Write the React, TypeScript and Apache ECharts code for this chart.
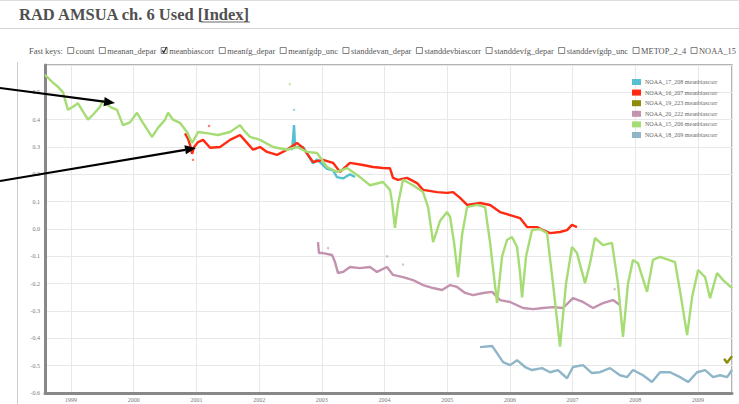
import React, { useEffect, useRef } from "react";
import * as echarts from "echarts";

const W = 739;
const H = 404;

// x extent of the plot, decimal years
const X_MIN = 1998.585;
const X_MAX = 2009.541;

// y axis
const Y_MIN = -0.6;
const Y_MAX = 0.6;
const Y_STEP = 0.1;

const SERIES_NAMES = [
  "NOAA_17_208 meanbiascorr",
  "NOAA_16_207 meanbiascorr",
  "NOAA_19_223 meanbiascorr",
  "NOAA_20_222 meanbiascorr",
  "NOAA_15_206 meanbiascorr",
  "NOAA_18_209 meanbiascorr",
];
const SERIES_COLORS = ["#55c0d2", "#ff2a12", "#8c8c08", "#c392ae", "#a6dc74", "#8fb6c8"];

// [decimal year, meanbiascorr]
const noaa17_208: number[][] = [
  [2002.477, 0.3], [2002.525, 0.29], [2002.541, 0.33], [2002.557, 0.38], [2002.573, 0.3],
  [2002.7, 0.3], [2002.86, 0.24], [2002.923, 0.255], [2003.083, 0.22], [2003.179, 0.215],
  [2003.242, 0.19], [2003.338, 0.185], [2003.45, 0.2], [2003.53, 0.19],
];

const noaa16_207: number[][] = [
  [2000.818, 0.35], [2000.866, 0.33], [2000.898, 0.307], [2000.93, 0.275], [2000.962, 0.3],
  [2001.026, 0.318], [2001.105, 0.326], [2001.217, 0.297], [2001.376, 0.3], [2001.536, 0.326],
  [2001.695, 0.344], [2001.807, 0.315], [2001.903, 0.29], [2002.014, 0.3], [2002.126, 0.282],
  [2002.285, 0.271], [2002.445, 0.29], [2002.604, 0.315], [2002.7, 0.297], [2002.86, 0.245],
  [2003.019, 0.253], [2003.179, 0.242], [2003.29, 0.209], [2003.45, 0.242], [2003.657, 0.234],
  [2003.817, 0.227], [2003.976, 0.223], [2004.088, 0.222], [2004.136, 0.187], [2004.215, 0.18],
  [2004.359, 0.187], [2004.518, 0.168], [2004.614, 0.143], [2004.837, 0.135], [2004.997, 0.132],
  [2005.093, 0.135], [2005.204, 0.114], [2005.316, 0.088], [2005.523, 0.095], [2005.683, 0.088],
  [2005.842, 0.062], [2006.002, 0.051], [2006.161, 0.04], [2006.273, 0.007], [2006.432, 0.007],
  [2006.528, -0.004], [2006.64, -0.015], [2006.799, -0.011], [2006.911, -0.004], [2006.99, 0.015],
  [2007.07, 0.007],
];

const noaa19_223: number[][] = [
  [2009.415, -0.475], [2009.463, -0.49], [2009.49, -0.48], [2009.525, -0.47], [2009.541, -0.465],
];

const noaa20_222: number[][] = [
  [2002.939, -0.048], [2002.955, -0.088], [2003.019, -0.088], [2003.163, -0.095], [2003.211, -0.121],
  [2003.258, -0.161], [2003.338, -0.157], [2003.45, -0.139], [2003.609, -0.143], [2003.769, -0.139],
  [2003.88, -0.157], [2004.04, -0.139], [2004.136, -0.168], [2004.295, -0.176], [2004.455, -0.187],
  [2004.614, -0.205], [2004.774, -0.216], [2004.917, -0.223], [2005.045, -0.205], [2005.156, -0.212],
  [2005.284, -0.234], [2005.411, -0.242], [2005.571, -0.234], [2005.715, -0.23], [2005.842, -0.26],
  [2006.002, -0.267], [2006.209, -0.289], [2006.368, -0.293], [2006.528, -0.289], [2006.687, -0.286],
  [2006.847, -0.289], [2007.006, -0.253], [2007.166, -0.267], [2007.325, -0.289], [2007.485, -0.271],
  [2007.644, -0.26], [2007.756, -0.278],
];

const noaa15_206: number[][] = [
  [1998.585, 0.564], [1998.713, 0.535], [1998.793, 0.52], [1998.872, 0.5], [1998.952, 0.436],
  [1999.032, 0.447], [1999.112, 0.46], [1999.175, 0.436], [1999.271, 0.4], [1999.351, 0.418],
  [1999.463, 0.447], [1999.51, 0.47], [1999.622, 0.447], [1999.734, 0.436], [1999.829, 0.38],
  [1999.941, 0.39], [2000.053, 0.425], [2000.148, 0.388], [2000.292, 0.337], [2000.388, 0.37],
  [2000.499, 0.4], [2000.547, 0.425], [2000.627, 0.4], [2000.738, 0.388], [2000.85, 0.355],
  [2000.93, 0.315], [2001.026, 0.355], [2001.185, 0.35], [2001.344, 0.344], [2001.536, 0.355],
  [2001.695, 0.38], [2001.759, 0.36], [2001.855, 0.337], [2002.014, 0.326], [2002.222, 0.3],
  [2002.445, 0.29], [2002.604, 0.3], [2002.764, 0.282], [2002.923, 0.278], [2003.083, 0.227],
  [2003.242, 0.209], [2003.402, 0.223], [2003.609, 0.19], [2003.769, 0.16], [2003.976, 0.172],
  [2004.088, 0.143], [2004.12, 0.1], [2004.167, 0.004], [2004.215, 0.09], [2004.295, 0.18],
  [2004.455, 0.16], [2004.614, 0.135], [2004.694, 0.08], [2004.774, -0.048], [2004.885, 0.03],
  [2004.997, 0.062], [2005.045, 0.044], [2005.108, -0.05], [2005.172, -0.176], [2005.236, -0.02],
  [2005.316, 0.08], [2005.475, 0.088], [2005.603, 0.08], [2005.683, -0.05], [2005.794, -0.27],
  [2005.874, -0.1], [2005.954, -0.04], [2006.033, -0.029], [2006.113, -0.066], [2006.161, -0.16],
  [2006.193, -0.25], [2006.257, -0.1], [2006.352, -0.004], [2006.48, 0.0], [2006.592, -0.015],
  [2006.687, -0.2], [2006.799, -0.43], [2006.895, -0.2], [2006.99, -0.066], [2007.07, -0.088],
  [2007.198, -0.198], [2007.278, -0.125], [2007.357, -0.033], [2007.485, -0.059], [2007.628, -0.051],
  [2007.724, -0.2], [2007.804, -0.395], [2007.884, -0.2], [2007.963, -0.113], [2008.043, -0.125],
  [2008.187, -0.23], [2008.282, -0.113], [2008.394, -0.102], [2008.633, -0.121], [2008.729, -0.25],
  [2008.825, -0.388], [2008.904, -0.25], [2009.0, -0.15], [2009.112, -0.176], [2009.191, -0.253],
  [2009.303, -0.161], [2009.399, -0.187], [2009.541, -0.216],
];

const noaa18_209: number[][] = [
  [2005.523, -0.432], [2005.715, -0.428], [2005.794, -0.454], [2005.89, -0.487], [2006.002, -0.498],
  [2006.113, -0.48], [2006.241, -0.505], [2006.352, -0.516], [2006.512, -0.509], [2006.64, -0.524],
  [2006.767, -0.516], [2006.911, -0.546], [2007.006, -0.505], [2007.166, -0.498], [2007.309, -0.527],
  [2007.437, -0.524], [2007.596, -0.509], [2007.756, -0.535], [2007.868, -0.542], [2007.963, -0.516],
  [2008.123, -0.535], [2008.266, -0.56], [2008.394, -0.524], [2008.553, -0.524], [2008.713, -0.542],
  [2008.841, -0.56], [2008.984, -0.524], [2009.112, -0.516], [2009.239, -0.542], [2009.351, -0.535],
  [2009.463, -0.542], [2009.541, -0.516],
];

// stray single values drawn as dots
const stray16: number[][] = [[2000.946, 0.253], [2001.2, 0.377]];
const stray17: number[][] = [[2002.557, 0.436]];
const stray20: number[][] = [[2003.1, -0.07], [2004.04, -0.1], [2004.295, -0.13], [2007.67, -0.22]];
const stray15: number[][] = [[2002.49, 0.53]];

// quick-select keys above the chart: [label, checked]
const FAST_KEYS: [string, boolean][] = [
  ["count", false],
  ["meanan_depar", false],
  ["meanbiascorr", true],
  ["meanfg_depar", false],
  ["meanfgdp_unc", false],
  ["standdevan_depar", false],
  ["standdevbiascorr", false],
  ["standdevfg_depar", false],
  ["standdevfgdp_unc", false],
  ["METOP_2_4", false],
  ["NOAA_15", false],
];

const toTime = (y: number) => {
  const yr = Math.floor(y);
  const a = Date.UTC(yr, 0, 1);
  const b = Date.UTC(yr + 1, 0, 1);
  return a + (y - yr) * (b - a);
};
const YEAR_MS = 365.25 * 24 * 3600 * 1000;
const toSeries = (d: number[][]) => d.map(([y, v]) => [toTime(y), v]);

function arrow(x0: number, y0: number, x1: number, y1: number) {
  const dx = x1 - x0;
  const dy = y1 - y0;
  const len = Math.hypot(dx, dy);
  const ux = dx / len;
  const uy = dy / len;
  const hl = 11;
  const hw = 4.6;
  const bx = x1 - ux * hl;
  const by = y1 - uy * hl;
  return [
    { type: "line", shape: { x1: x0, y1: y0, x2: bx, y2: by }, style: { stroke: "#000", lineWidth: 2.2 }, z: 100 },
    {
      type: "polygon",
      shape: { points: [[x1, y1], [bx - uy * hw, by + ux * hw], [bx + uy * hw, by - ux * hw]] },
      style: { fill: "#000" },
      z: 100,
    },
  ];
}

export default function App() {
  const ref = useRef<HTMLDivElement>(null);

  useEffect(() => {
    if (!ref.current) return;
    const chart = echarts.init(ref.current, null, { renderer: "svg", width: W, height: H });
    const serif = "'Liberation Serif', 'DejaVu Serif', serif";

    const data = [noaa17_208, noaa16_207, noaa19_223, noaa20_222, noaa15_206, noaa18_209];
    const lines = data.map((d, i) => ({
      name: SERIES_NAMES[i],
      type: "line",
      data: toSeries(d),
      showSymbol: false,
      symbol: "none",
      color: SERIES_COLORS[i],
      lineStyle: { width: 2.4, color: SERIES_COLORS[i] },
      z: 2 + i,
    }));
    const strays = [
      [stray16, SERIES_COLORS[1]],
      [stray17, SERIES_COLORS[0]],
      [stray20, SERIES_COLORS[3]],
      [stray15, SERIES_COLORS[4]],
    ].map(([d, c], i) => ({
      name: "stray" + i,
      type: "scatter",
      data: toSeries(d as number[][]),
      symbolSize: 2.5,
      itemStyle: { color: c as string, opacity: 0.6 },
      z: 1,
    }));

    const keyFont = "8.4px " + serif;
    const ctx = document.createElement("canvas").getContext("2d");
    const measure = (s: string) => {
      if (!ctx) return s.length * 4;
      ctx.font = keyFont;
      return ctx.measureText(s).width;
    };

    const graphics: any[] = [
      { type: "line", shape: { x1: 0, y1: 0.5, x2: W, y2: 0.5 }, style: { stroke: "#dddddd", lineWidth: 1 } },
      {
        type: "text",
        x: 19,
        y: 14,
        style: {
          text: "RAD AMSUA ch. 6 Used [Index]",
          font: "bold 16.5px " + serif,
          fill: "#505050",
          verticalAlign: "middle",
        },
      },
      { type: "line", shape: { x1: 201, y1: 22, x2: 250, y2: 22 }, style: { stroke: "#666", lineWidth: 1 } },
      { type: "line", shape: { x1: 0, y1: 28.5, x2: W, y2: 28.5 }, style: { stroke: "#d4d4d4", lineWidth: 1 } },
      { type: "line", shape: { x1: 17.5, y1: 62, x2: 17.5, y2: H }, style: { stroke: "#cccccc", lineWidth: 1 } },
      {
        type: "text",
        x: 29,
        y: 51,
        style: { text: "Fast keys:", font: keyFont, fill: "#555", verticalAlign: "middle" },
      },
    ];
    let kx = 29 + measure("Fast keys:") + 5;
    FAST_KEYS.forEach(([label, checked]) => {
      graphics.push({
        type: "rect",
        shape: { x: kx, y: 47.5, width: 6, height: 6 },
        style: { fill: "#fff", stroke: "#666", lineWidth: 0.8 },
      });
      if (checked) {
        graphics.push({
          type: "polyline",
          shape: { points: [[kx + 1, 50.5], [kx + 2.6, 52.5], [kx + 5.5, 47]] },
          style: { stroke: "#333", lineWidth: 1.3, fill: null },
        });
      }
      graphics.push({
        type: "text",
        x: kx + 8,
        y: 51,
        style: { text: label, font: keyFont, fill: "#555", verticalAlign: "middle" },
      });
      kx += 8 + measure(label) + 5;
    });
    graphics.push(...arrow(0, 88, 115, 103));
    graphics.push(...arrow(0, 181, 196, 148));

    const axisFont = { fontSize: 6, color: "#777", fontFamily: serif };

    chart.setOption({
      animation: false,
      useUTC: true,
      backgroundColor: "#ffffff",
      grid: {
        left: 45,
        right: 7,
        top: 65,
        bottom: 11,
        show: true,
        borderColor: "#9a9a9a",
        borderWidth: 1.5,
        backgroundColor: "transparent",
      },
      legend: {
        data: SERIES_NAMES,
        orient: "vertical",
        left: 627,
        top: 74,
        itemWidth: 9,
        itemHeight: 6,
        itemGap: 4.6,
        icon: "rect",
        textStyle: { fontSize: 6, color: "#666", fontFamily: serif, padding: [0, 0, 0, -1] },
        selectedMode: false,
      },
      xAxis: {
        type: "time",
        min: toTime(X_MIN),
        max: toTime(X_MAX),
        minInterval: YEAR_MS,
        maxInterval: YEAR_MS,
        splitNumber: 11,
        axisLine: { show: true, onZero: false, lineStyle: { color: "#888", width: 3 } },
        axisTick: { show: false },
        axisLabel: {
          ...axisFont,
          margin: 4,
          showMinLabel: false,
          showMaxLabel: false,
          formatter: (v: number) => String(new Date(v).getUTCFullYear()),
        },
        splitLine: { show: true, lineStyle: { color: "#e8e8e8", width: 1 } },
      },
      yAxis: {
        type: "value",
        min: Y_MIN,
        max: Y_MAX,
        interval: Y_STEP,
        axisLine: { show: true, onZero: false, lineStyle: { color: "#888", width: 3 } },
        axisTick: { show: false },
        axisLabel: {
          ...axisFont,
          margin: 5,
          formatter: (v: number) => (v > 0.55 ? "" : Math.abs(v) < 1e-9 ? "0.0" : v.toFixed(1)),
        },
        splitLine: { show: true, lineStyle: { color: "#e8e8e8", width: 1 } },
      },
      series: [...strays, ...lines],
      graphic: graphics,
    });

    return () => chart.dispose();
  }, []);

  return <div ref={ref} style={{ position: "fixed", left: 0, top: 0, width: W, height: H }} />;
}
